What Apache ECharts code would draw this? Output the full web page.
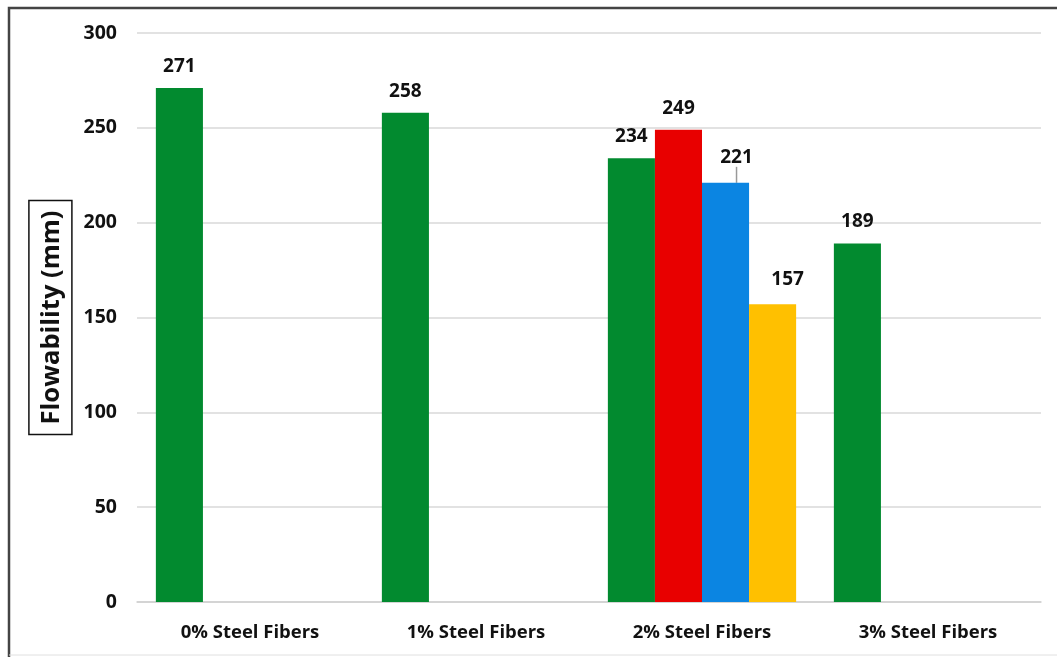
<!DOCTYPE html>
<html>
<head>
<meta charset="utf-8">
<script src="https://cdn.jsdelivr.net/npm/echarts@6/dist/echarts.min.js"></script>
<style>
html,body{margin:0;padding:0;background:#fff;}
#chart{width:1057px;height:657px;}
</style>
</head>
<body>
<div id="chart"></div>
<script>
const categories = ['0% Steel Fibers', '1% Steel Fibers', '2% Steel Fibers', '3% Steel Fibers'];
const greenValues = [271, 258, 234, 189];
const redValues = [null, null, 249, null];
const blueValues = [null, null, 221, null];
const yellowValues = [null, null, 157, null];
const yTicks = [0, 50, 100, 150, 200, 250, 300];

const FONT = 'Open Sans';
const chart = echarts.init(document.getElementById('chart'), null, {renderer: 'canvas'});

const labelBase = {
  show: true, position: 'top', distance: 12,
  fontFamily: FONT, fontWeight: 'bold', fontSize: 19, color: '#111'
};

function barSeries(name, data, color, extra) {
  return Object.assign({
    name: name, type: 'bar', data: data,
    barGap: '0%', barCategoryGap: '16.7%',
    itemStyle: {color: color},
    label: Object.assign({}, labelBase)
  }, extra || {});
}

chart.setOption({
  animation: false,
  backgroundColor: '#fff',
  grid: {left: 137, right: 16, top: 33, bottom: 55},
  xAxis: {
    type: 'category', data: categories,
    axisLine: {lineStyle: {color: '#d0d0d0', width: 1.5}},
    axisTick: {show: false},
    axisLabel: {fontFamily: FONT, fontWeight: 'bold', fontSize: 18.5, color: '#111', margin: 21}
  },
  yAxis: {
    type: 'value', min: yTicks[0], max: yTicks[yTicks.length - 1], interval: 50,
    name: 'Flowability (mm)', nameLocation: 'middle', nameGap: 65,
    nameTextStyle: {
      fontFamily: FONT, fontWeight: 'bold', fontSize: 25.5, color: '#111',
      borderColor: '#111', borderWidth: 1.5, padding: [10, 10, 7, 10]
    },
    axisLine: {show: false}, axisTick: {show: false},
    axisLabel: {fontFamily: FONT, fontWeight: 'bold', fontSize: 19.5, color: '#111', margin: 20},
    splitLine: {lineStyle: {color: '#d9d9d9', width: 1.5}}
  },
  series: [
    barSeries('Green', greenValues, '#028A2F'),
    barSeries('Red', redValues, '#E80000'),
    barSeries('Blue', blueValues, '#0B85E2', {
      labelLayout: {dx: 11, dy: -4},
      labelLine: {show: true, length2: 0, lineStyle: {color: '#999', width: 1.5}}
    }),
    barSeries('Yellow', yellowValues, '#FFC000', {
      labelLayout: {dx: 15, dy: -3}
    })
  ],
  graphic: [
    {type: 'polyline', shape: {points: [[1057, 8], [9, 8], [9, 657]]},
     style: {stroke: '#444', lineWidth: 2.5, fill: null}, silent: true},
    {type: 'line', shape: {x1: 9, y1: 655, x2: 1057, y2: 655},
     style: {stroke: '#e0e0e0', lineWidth: 1}, silent: true}
  ]
});
</script>
</body>
</html>
